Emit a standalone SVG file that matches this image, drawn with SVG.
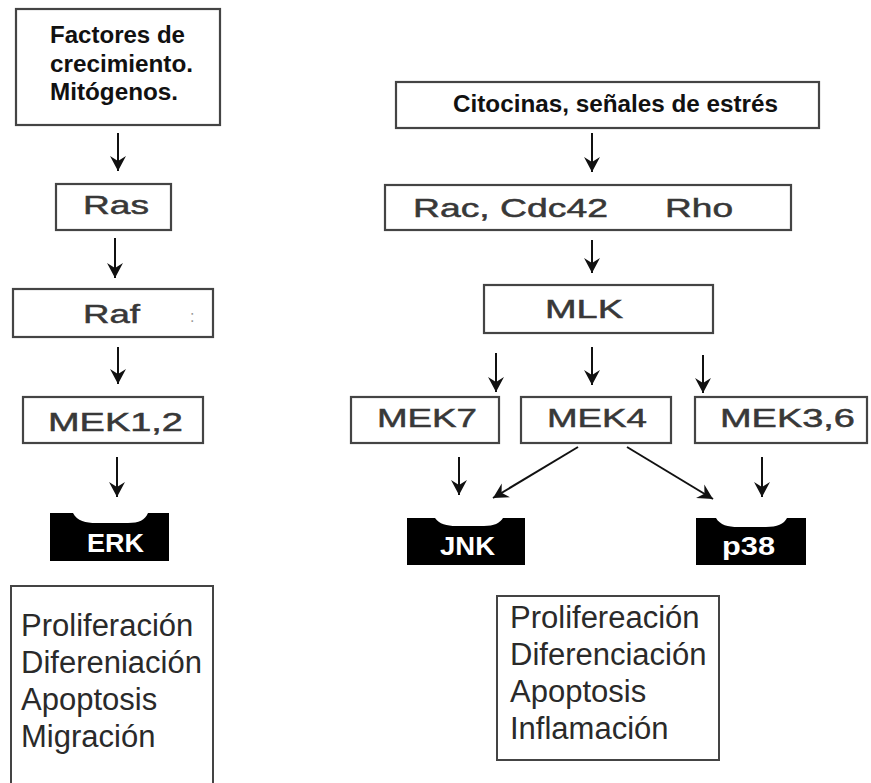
<svg xmlns="http://www.w3.org/2000/svg" width="871" height="783" viewBox="0 0 871 783">
<style>
.box{fill:#ffffff;stroke:#444444;stroke-width:2.2}
.lbl{font-family:"Liberation Sans",Arial,sans-serif;font-size:26px;fill:#383838;stroke:#383838;stroke-width:0.5}
.hdr{font-family:"Liberation Sans",Arial,sans-serif;font-size:23px;font-weight:bold;fill:#111111}
.kin{fill:#000000}
.kt{font-family:"Liberation Sans",Arial,sans-serif;font-size:26px;font-weight:bold;fill:#ffffff}
.lst{font-family:"Liberation Sans",Arial,sans-serif;font-size:31px;fill:#2a2a2a}
.arr{stroke:#111111;stroke-width:2;fill:none}
</style>
<defs>
<marker id="ah" markerUnits="userSpaceOnUse" markerWidth="20" markerHeight="20" viewBox="-17 -10 19 20" refX="0" refY="0" orient="auto">
<path d="M0,0 L-15,-8 L-10,0 L-15,8 Z" fill="#111111"/>
</marker>
</defs>
<rect width="871" height="783" fill="#ffffff"/>

<g id="connectors">
<line class="arr" x1="118" y1="133" x2="118" y2="171" marker-end="url(#ah)"/>
<line class="arr" x1="115" y1="238" x2="115" y2="278" marker-end="url(#ah)"/>
<line class="arr" x1="118" y1="347" x2="118" y2="384" marker-end="url(#ah)"/>
<line class="arr" x1="117" y1="457" x2="117" y2="497" marker-end="url(#ah)"/>
<line class="arr" x1="592" y1="133" x2="592" y2="172" marker-end="url(#ah)"/>
<line class="arr" x1="592" y1="240" x2="592" y2="273" marker-end="url(#ah)"/>
<line class="arr" x1="496" y1="353" x2="496" y2="392" marker-end="url(#ah)"/>
<line class="arr" x1="592" y1="347" x2="592" y2="385" marker-end="url(#ah)"/>
<line class="arr" x1="703" y1="355" x2="703" y2="393" marker-end="url(#ah)"/>
<line class="arr" x1="459" y1="457" x2="459" y2="495" marker-end="url(#ah)"/>
<line class="arr" x1="578" y1="447" x2="493" y2="498" marker-end="url(#ah)"/>
<line class="arr" x1="627" y1="447" x2="713" y2="499" marker-end="url(#ah)"/>
<line class="arr" x1="762" y1="457" x2="762" y2="497" marker-end="url(#ah)"/>
</g>

<g id="factores">
<rect class="box" x="16" y="9" width="204" height="116"/>
<text class="hdr" x="50" y="43" textLength="135" lengthAdjust="spacingAndGlyphs">Factores de</text>
<text class="hdr" x="50" y="72" textLength="143" lengthAdjust="spacingAndGlyphs">crecimiento.</text>
<text class="hdr" x="50" y="100" textLength="128" lengthAdjust="spacingAndGlyphs">Mitógenos.</text>
</g>

<g id="ras">
<rect class="box" x="56" y="184" width="115" height="46"/>
<text class="lbl" x="83" y="214" textLength="66" lengthAdjust="spacingAndGlyphs">Ras</text>
</g>

<g id="raf">
<rect class="box" x="13" y="289" width="200" height="48"/>
<text class="lbl" x="83" y="323" textLength="57" lengthAdjust="spacingAndGlyphs">Raf</text>
<text x="190" y="322" font-family="Liberation Sans,Arial,sans-serif" font-size="16" fill="#999999">:</text>
</g>

<g id="mek12">
<rect class="box" x="23" y="397" width="180" height="46"/>
<text class="lbl" x="48" y="431" textLength="135" lengthAdjust="spacingAndGlyphs">MEK1,2</text>
</g>

<g id="erk">
<path class="kin" d="M50,513 H73 C77,521 86,523 96,523 H128 C139,523 145,520 148,513 H169 V561 H50 Z"/>
<text class="kt" x="87" y="552" textLength="57" lengthAdjust="spacingAndGlyphs">ERK</text>
</g>

<g id="efectos-erk">
<path d="M11,790 V586 H213 V790" fill="#ffffff" stroke="#444444" stroke-width="2"/>
<text class="lst" x="21" y="636">Proliferación</text>
<text class="lst" x="21" y="673">Difereniación</text>
<text class="lst" x="21" y="710">Apoptosis</text>
<text class="lst" x="21" y="747">Migración</text>
</g>

<g id="citocinas">
<rect class="box" x="396" y="82" width="423" height="46"/>
<text class="hdr" x="453" y="112" textLength="325" lengthAdjust="spacingAndGlyphs">Citocinas, señales de estrés</text>
</g>

<g id="rac">
<rect class="box" x="385" y="185" width="406" height="45"/>
<text class="lbl" x="413" y="217" textLength="195" lengthAdjust="spacingAndGlyphs">Rac, Cdc42</text>
<text class="lbl" x="665" y="217" textLength="68" lengthAdjust="spacingAndGlyphs">Rho</text>
</g>

<g id="mlk">
<rect class="box" x="484" y="285" width="229" height="48"/>
<text class="lbl" x="545" y="318" textLength="78" lengthAdjust="spacingAndGlyphs">MLK</text>
</g>

<g id="mek7">
<rect class="box" x="351" y="397" width="148" height="46"/>
<text class="lbl" x="377" y="427" textLength="100" lengthAdjust="spacingAndGlyphs">MEK7</text>
</g>

<g id="mek4">
<rect class="box" x="521" y="397" width="150" height="46"/>
<text class="lbl" x="547" y="427" textLength="100" lengthAdjust="spacingAndGlyphs">MEK4</text>
</g>

<g id="mek36">
<rect class="box" x="695" y="397" width="172" height="46"/>
<text class="lbl" x="720" y="427" textLength="135" lengthAdjust="spacingAndGlyphs">MEK3,6</text>
</g>

<g id="jnk">
<path class="kin" d="M407,518 H435 C439,524 447,526 456,526 H484 C494,526 500,523 503,518 H525 V565 H407 Z"/>
<text class="kt" x="440" y="555" textLength="55" lengthAdjust="spacingAndGlyphs">JNK</text>
</g>

<g id="p38">
<path class="kin" d="M696,518 H716 C720,525 728,527 738,527 H766 C777,527 784,524 787,518 H806 V565 H696 Z"/>
<text class="kt" x="722" y="555" textLength="53" lengthAdjust="spacingAndGlyphs">p38</text>
</g>

<g id="efectos-jnk-p38">
<rect x="497" y="596" width="222" height="164" fill="#ffffff" stroke="#444444" stroke-width="2"/>
<text class="lst" x="510" y="628">Prolifereación</text>
<text class="lst" x="510" y="665">Diferenciación</text>
<text class="lst" x="510" y="702">Apoptosis</text>
<text class="lst" x="510" y="739">Inflamación</text>
</g>
</svg>
